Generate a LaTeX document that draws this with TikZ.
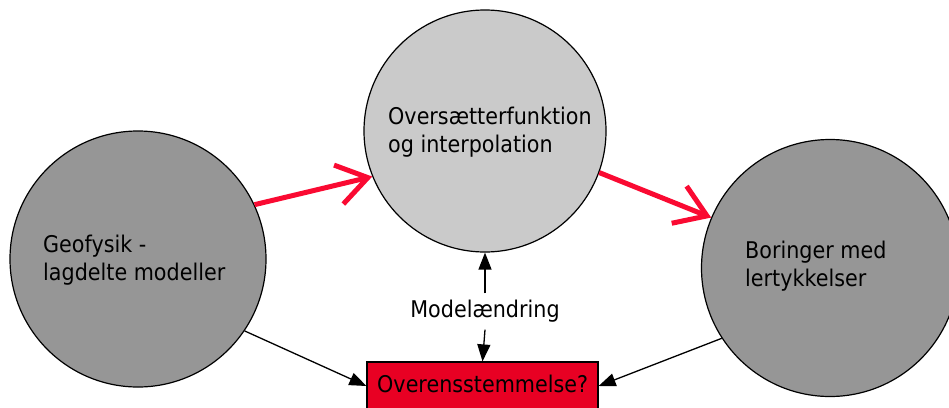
\documentclass[tikz,border=0pt]{standalone}
\usepackage{fontspec}
\setmainfont{DejaVu Sans}[FakeStretch=0.9]
\usetikzlibrary{arrows.meta}
\definecolor{darkgrey}{RGB}{150,150,150}
\definecolor{lightgrey}{RGB}{202,202,202}
\definecolor{arrowred}{RGB}{250,10,50}
\definecolor{boxred}{RGB}{232,0,35}
\newcommand{\twolines}[2]{\vtop{\baselineskip=28.5pt\hbox{#1}\hbox{#2}}}
\tikzset{
  bubble/.style={circle, draw=black, line width=1.2pt, inner sep=0pt},
  lbl/.style={anchor=base west, inner sep=0pt, font=\fontsize{23}{28.5}\selectfont},
  redarrow/.style={draw=arrowred, line width=5pt, -{Straight Barb[length=30pt,width=40pt]}},
  blackarrow/.style={draw=black, line width=1.3pt, -{Triangle[length=17pt,width=13pt]}},
}
\begin{document}
\begin{tikzpicture}[x=1pt,y=-1pt]
\useasboundingbox (0,0) rectangle (949,407);
% circles
\node[bubble, fill=darkgrey, minimum size=256pt] (L) at (138,259) {};
\node[bubble, fill=lightgrey, minimum size=242pt] (M) at (485,131) {};
\node[bubble, fill=darkgrey, minimum size=257pt] (R) at (830,268) {};
% box
\node[draw=black, line width=1.2pt, fill=boxred, minimum width=231pt, minimum height=48pt, inner sep=0pt] (box) at (482.5,386) {};
% labels
\node[lbl] (Ltext) at (43,252) {\twolines{Geofysik -}{lagdelte modeller}};
\node[lbl] (Mtext) at (388,124) {\twolines{Oversætterfunktion}{og interpolation}};
\node[lbl] (Rtext) at (745,258) {\twolines{Boringer med}{lertykkelser}};
\node[lbl] (boxtext) at (377,392) {Overensstemmelse?};
\node[anchor=base, inner xsep=0pt, inner ysep=8.5pt, text height=15pt, text depth=4pt, font=\fontsize{23}{28}\selectfont] (ml) at (485,317) {Modelændring};
% connectors
\draw[redarrow] (L.25) -- (M.202);
\draw[redarrow] (M.-20) -- (R.157);
\draw[blackarrow] (ml.north) -- (M.south);
\draw[blackarrow] (ml.south) -- (box.north);
\draw[blackarrow] (L.-34) -- (box.west);
\draw[blackarrow] (R.213.6) -- (box.east);
\end{tikzpicture}
\end{document}
